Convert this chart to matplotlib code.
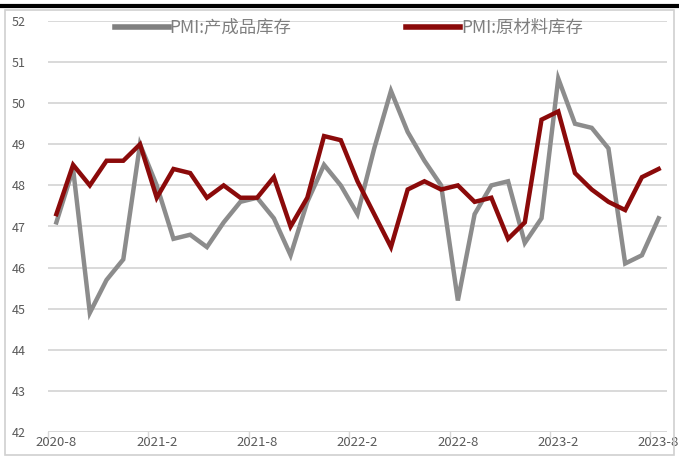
import matplotlib
matplotlib.use("Agg")
import matplotlib.pyplot as plt
from matplotlib.lines import Line2D
from matplotlib.patches import Rectangle

plt.rcParams['font.family'] = ['Noto Sans CJK SC', 'DejaVu Sans']

months = [f"{y}-{m}" for y, m in
          [(2020, m) for m in range(8, 13)] + [(2021, m) for m in range(1, 13)] +
          [(2022, m) for m in range(1, 13)] + [(2023, m) for m in range(1, 9)]]

finished_goods = [47.1, 48.4, 44.9, 45.7, 46.2, 49.0, 48.0, 46.7, 46.8, 46.5, 47.1, 47.6,
                  47.7, 47.2, 46.3, 47.6, 48.5, 48.0, 47.3, 48.9, 50.3, 49.3, 48.6, 48.0,
                  45.2, 47.3, 48.0, 48.1, 46.6, 47.2, 50.6, 49.5, 49.4, 48.9, 46.1, 46.3, 47.2]
raw_materials = [47.3, 48.5, 48.0, 48.6, 48.6, 49.0, 47.7, 48.4, 48.3, 47.7, 48.0, 47.7,
                 47.7, 48.2, 47.0, 47.7, 49.2, 49.1, 48.1, 47.3, 46.5, 47.9, 48.1, 47.9,
                 48.0, 47.6, 47.7, 46.7, 47.1, 49.6, 49.8, 48.3, 47.9, 47.6, 47.4, 48.2, 48.4]
series_names = ["PMI:产成品库存", "PMI:原材料库存"]
yticks = list(range(42, 53))

W, H = 679, 458
fig = plt.figure(figsize=(W / 100, H / 100), dpi=100)
ax = fig.add_axes([48 / W, 26 / H, (667 - 48) / W, (432 - 21) / H])

x = list(range(len(months)))
gray = "#8c8c8c"
red = "#8b0a0a"
ax.plot(x, finished_goods, color=gray, lw=3.2, solid_joinstyle="miter", zorder=3)
ax.plot(x, raw_materials, color=red, lw=3.2, solid_joinstyle="miter", zorder=4)

ax.set_xlim(-0.5, len(months) - 0.5)
ax.set_ylim(42, 52)
ax.set_yticks(yticks)
ax.set_yticklabels([str(v) for v in yticks])
ax.yaxis.grid(True, color="#d9d9d9", lw=1.4)
ax.set_axisbelow(True)
for s in ax.spines.values():
    s.set_visible(False)
ax.tick_params(axis="y", length=0, pad=26, labelsize=9, labelcolor="#595959")
for lab in ax.get_yticklabels():
    lab.set_horizontalalignment("left")

ax.set_xticks(x[::6])
ax.set_xticklabels([months[i] for i in x[::6]])
ax.tick_params(axis="x", length=0, pad=3, labelsize=9.5, labelcolor="#595959")
# small tick marks at category boundaries
for i in x[::6]:
    ax.plot([i - 0.5, i - 0.5], [42, 41.88], color="#d9d9d9", lw=1, clip_on=False)
ax.axhline(42, color="#d9d9d9", lw=1.4)

handles = [Line2D([0], [0], color="#808080", lw=4),
           Line2D([0], [0], color=red, lw=4)]
leg = fig.legend(handles, series_names, loc="center left", bbox_to_anchor=(108 / W, 1 - 28 / H),
                 ncol=2, frameon=False, handlelength=3.1, handletextpad=0.05,
                 columnspacing=6.6, fontsize=12.5, borderaxespad=0)
for t in leg.get_texts():
    t.set_color("#7f7f7f")

# outer border and top bar
fig.patches.append(Rectangle((5 / W, 3 / H), (674 - 5) / W, (448 - 3) / H,
                             transform=fig.transFigure, fill=False, ec="#d0d0d0", lw=1.2))
fig.add_artist(Line2D([0, 1], [1 - 6 / H, 1 - 6 / H], transform=fig.transFigure,
                      color="black", lw=3))

fig.savefig("out.png", dpi=100)
